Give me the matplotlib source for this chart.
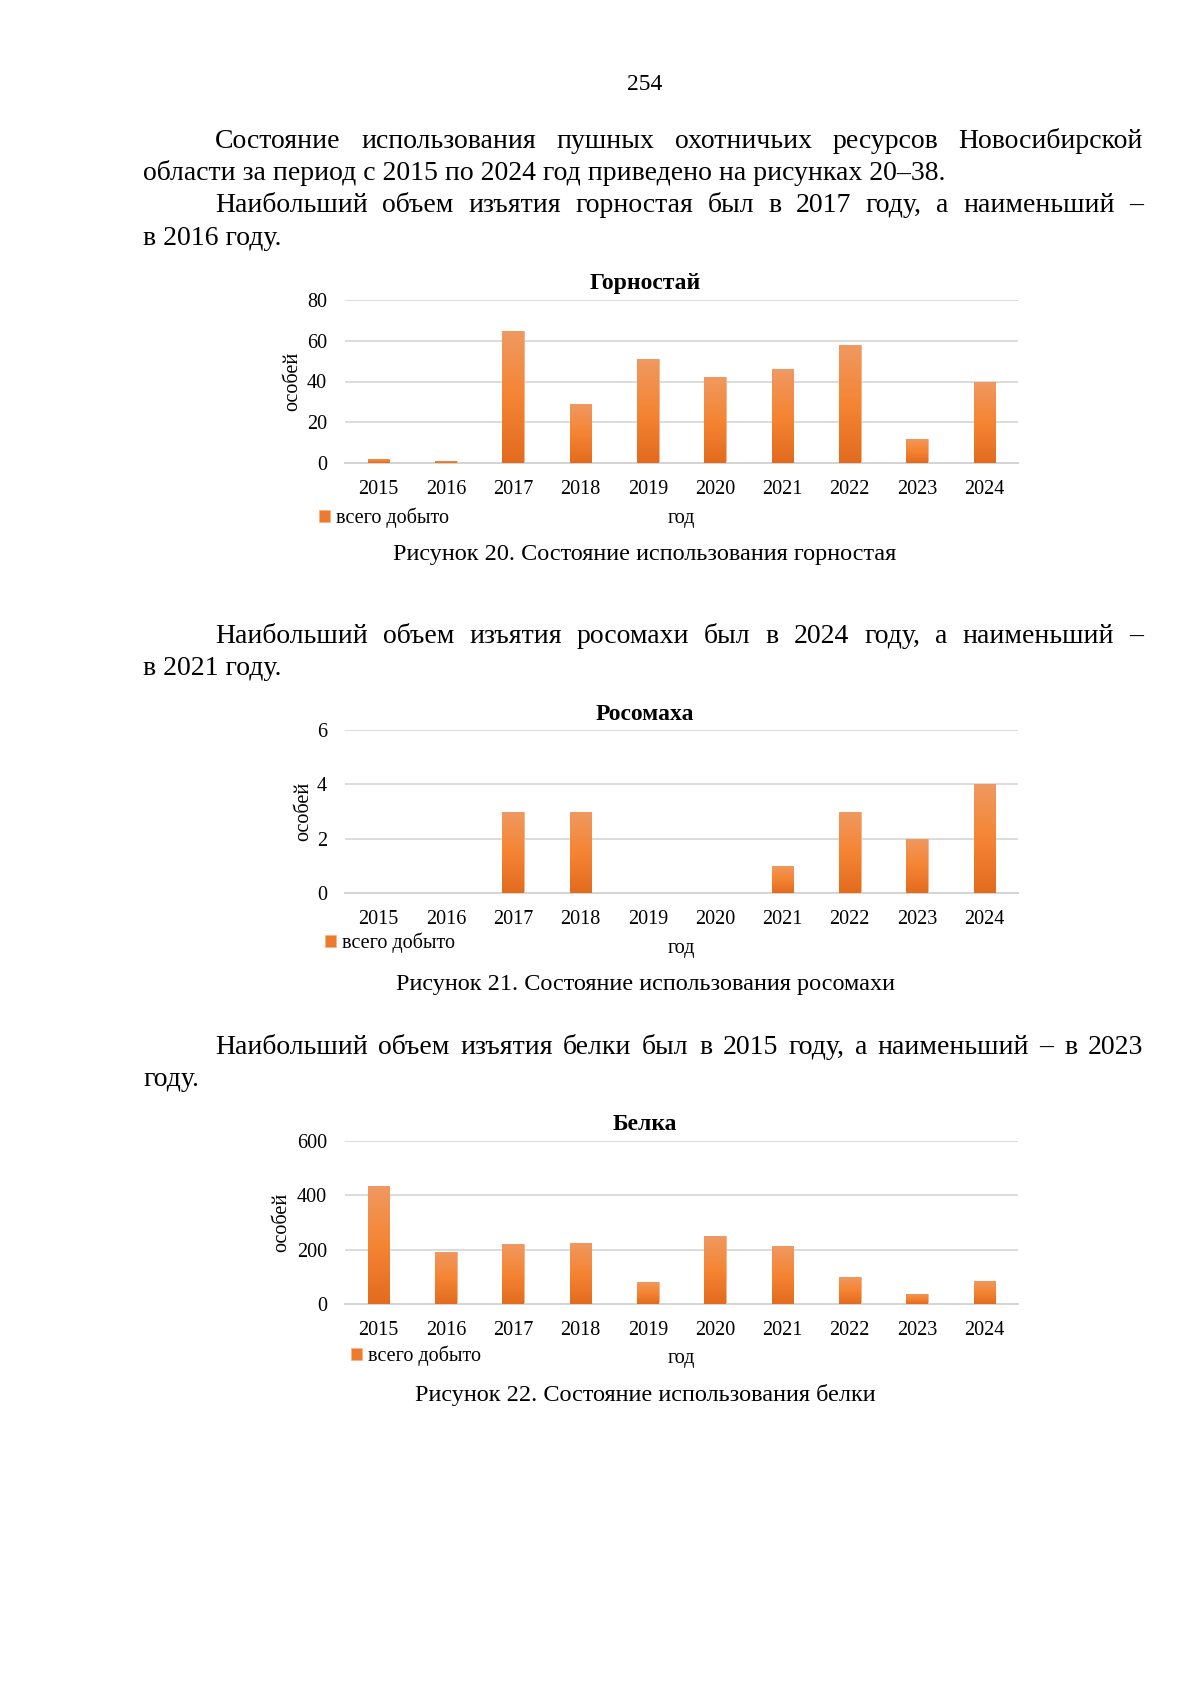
import matplotlib
matplotlib.use('Agg')
import matplotlib.pyplot as plt
import numpy as np

W, H = 1200, 1697
plt.rcParams['font.family'] = ['Liberation Serif', 'DejaVu Serif']

years = ['2015', '2016', '2017', '2018', '2019', '2020', '2021', '2022', '2023', '2024']
ermine = [2, 1, 65, 29, 51, 42, 46, 58, 12, 40]
wolverine = [0, 0, 3, 3, 0, 0, 1, 3, 2, 4]
squirrel = [435, 192, 222, 226, 82, 250, 213, 100, 38, 85]
legend_label = 'всего добыто'
x_label = 'год'
y_label = 'особей'

BODY = 20
fig = plt.figure(figsize=(12, 16.97), dpi=100)
renderer = fig.canvas.get_renderer()


def fx(x):
    return x / W


def fy(y):
    return 1 - y / H


def justified(text, yb, x0=215, x1=1143, size=BODY):
    words = text.split(' ')
    ts = [fig.text(0, fy(yb), w, fontsize=size, va='baseline', ha='left') for w in words]
    widths = [t.get_window_extent(renderer).width for t in ts]
    gap = (x1 - x0 - sum(widths)) / (len(words) - 1)
    x = x0
    for t, w in zip(ts, widths):
        t.set_x(fx(x))
        x += w + gap


def plain(text, yb, x0=143, size=BODY):
    fig.text(fx(x0), fy(yb), text, fontsize=size, va='baseline', ha='left')


fig.text(fx(645), fy(90), '254', ha='center', va='baseline', fontsize=17)

justified('Состояние использования пушных охотничьих ресурсов Новосибирской', 148)
plain('области за период с 2015 по 2024 год приведено на рисунках 20–38.', 180)
justified('Наибольший объем изъятия горностая был в 2017 году, а наименьший –', 212)
plain('в 2016 году.', 245)
justified('Наибольший объем изъятия росомахи был в 2024 году, а наименьший –', 643)
plain('в 2021 году.', 675)
justified('Наибольший объем изъятия белки был в 2015 году, а наименьший – в 2023', 1054)
plain('году.', 1086)

charts = [
    dict(title='Горностай', values=ermine, top=300, bottom=463, ymax=80, step=20,
         ylab_x=293, leg=(319, 518), god_y=519, title_y=283,
         caption='Рисунок 20. Состояние использования горностая', cap_y=560),
    dict(title='Росомаха', values=wolverine, top=730, bottom=893, ymax=6, step=2,
         ylab_x=304, leg=(325, 943), god_y=948, title_y=715,
         caption='Рисунок 21. Состояние использования росомахи', cap_y=990),
    dict(title='Белка', values=squirrel, top=1141, bottom=1304, ymax=600, step=200,
         ylab_x=282, leg=(351, 1356), god_y=1359, title_y=1124,
         caption='Рисунок 22. Состояние использования белки', cap_y=1401),
]

grad_cols = np.array([
    [0.89, 0.42, 0.12],
    [0.96, 0.52, 0.20],
    [0.94, 0.60, 0.38],
])
t = np.linspace(0, 1, 64)
grad = np.stack([np.interp(t, [0, 0.5, 1], grad_cols[:, k]) for k in range(3)], axis=-1)[:, None, :]

L, R = 345, 1018
for c in charts:
    top, bottom = c['top'], c['bottom']
    ax = fig.add_axes([fx(L), fy(bottom), (R - L) / W, (bottom - top) / H])
    x = np.arange(len(years))
    bars = ax.bar(x, c['values'], width=0.32, color='#EE7B2C', edgecolor='#F5B48A',
                  linewidth=0.6, zorder=2)
    for b in bars:
        if b.get_height() > 0:
            im = ax.imshow(grad, extent=[b.get_x(), b.get_x() + b.get_width(), 0, b.get_height()],
                           origin='lower', aspect='auto', zorder=3, interpolation='bilinear')
            im.set_clip_path(b)
    ax.set_xlim(-0.5, len(years) - 0.5)
    ax.set_ylim(0, c['ymax'])
    ax.set_yticks(range(0, c['ymax'] + 1, c['step']))
    ax.set_xticks(x, years)
    ax.grid(axis='y', color='#D9D9D9', linewidth=1.3, zorder=0)
    ax.set_axisbelow(True)
    for s in ['top', 'right', 'left']:
        ax.spines[s].set_visible(False)
    ax.spines['bottom'].set_color('#D4D4D4')
    ax.spines['bottom'].set_linewidth(1.4)
    ax.tick_params(axis='both', length=0, labelsize=14.5)
    ax.tick_params(axis='x', pad=12)
    ax.tick_params(axis='y', pad=13)
    ax.set_ylabel(y_label, fontsize=14.5, va='center')
    ax.yaxis.set_label_coords((c['ylab_x'] - L) / (R - L), 0.5)
    ax.set_xlabel(x_label, fontsize=14.5, va='center')
    ax.xaxis.set_label_coords(0.5, -(c['god_y'] - bottom) / (bottom - top))
    ax.legend(handles=[bars], labels=[legend_label], loc='center left',
              bbox_to_anchor=(fx(c['leg'][0]), fy(c['leg'][1])), bbox_transform=fig.transFigure,
              frameon=False, handlelength=0.55, handleheight=0.55, handletextpad=0.3,
              borderpad=0, borderaxespad=0, fontsize=14.5)
    fig.text(fx(645), fy(c['title_y']), c['title'], ha='center', va='center',
             fontsize=17, fontweight='bold')
    fig.text(fx(645), fy(c['cap_y']), c['caption'], ha='center', va='baseline', fontsize=17.5)

fig.savefig('out.png', dpi=100, facecolor='white')
